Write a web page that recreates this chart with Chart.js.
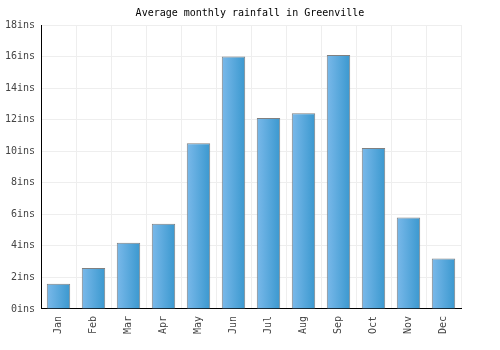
<!DOCTYPE html>
<html>
<head>
<meta charset="utf-8">
<script src="https://cdn.jsdelivr.net/npm/chart.js@4"></script>
<style>
  body { margin: 0; background: #fff; }
  #wrap { width: 500px; height: 350px; }
</style>
</head>
<body>
<div id="wrap"><canvas id="rainChart"></canvas></div>
<script>
const months = ['Jan', 'Feb', 'Mar', 'Apr', 'May', 'Jun', 'Jul', 'Aug', 'Sep', 'Oct', 'Nov', 'Dec'];
const rainfall = [1.6, 2.6, 4.2, 5.4, 10.5, 16.0, 12.1, 12.4, 16.1, 10.2, 5.8, 3.2];
const titulo = 'Average monthly rainfall in Greenville';
const unidade = 'ins';

const fonte = "'DejaVu Sans Mono', monospace";
const larguraBarra = 0.67;

// gradient per bar, left light -> right darker
function gradienteBarra(context) {
    const chart = context.chart;
    const escala = chart.scales.x;
    if (!escala || !chart.chartArea) return '#5aa8de';
    const centro = escala.getPixelForValue(context.dataIndex);
    const largura = (escala.width / months.length) * larguraBarra;
    const g = chart.ctx.createLinearGradient(centro - largura / 2, 0, centro + largura / 2, 0);
    g.addColorStop(0, '#7ab9ea');
    g.addColorStop(1, '#3a98cf');
    return g;
}

const ctx = document.getElementById('rainChart').getContext('2d');
new Chart(ctx, {
    type: 'bar',
    data: {
        labels: months,
        datasets: [{
            data: rainfall,
            backgroundColor: gradienteBarra,
            borderColor: '#808080',
            borderWidth: 1,
            barPercentage: larguraBarra,
            categoryPercentage: 1
        }]
    },
    options: {
        responsive: true,
        maintainAspectRatio: false,
        animation: false,
        layout: { padding: { top: 0, right: 0, bottom: 9, left: 0 } },
        plugins: {
            legend: { display: false },
            tooltip: { enabled: false },
            title: {
                display: true,
                text: titulo,
                color: '#000',
                font: { family: fonte, size: 10, weight: 'normal' },
                padding: { top: 7, bottom: 6 }
            }
        },
        scales: {
            x: {
                grid: { color: '#eeeeee', offset: true, drawTicks: false },
                border: { color: '#000', width: 1 },
                ticks: {
                    color: '#444',
                    font: { family: fonte, size: 10 },
                    minRotation: 90,
                    maxRotation: 90,
                    padding: 7
                }
            },
            y: {
                min: 0,
                max: 18,
                grid: { color: '#eeeeee', drawTicks: false },
                border: { color: '#000', width: 1 },
                ticks: {
                    stepSize: 2,
                    color: '#444',
                    font: { family: fonte, size: 10 },
                    padding: 6,
                    callback: function (v) { return v + unidade; }
                },
                afterFit: function (s) { s.width = 41; }
            },
            // empty axis on the right, only to leave the margin
            margem: {
                position: 'right',
                display: true,
                grid: { display: false },
                border: { display: false },
                ticks: { display: false },
                afterFit: function (s) { s.width = 39; }
            }
        }
    }
});
</script>
</body>
</html>
